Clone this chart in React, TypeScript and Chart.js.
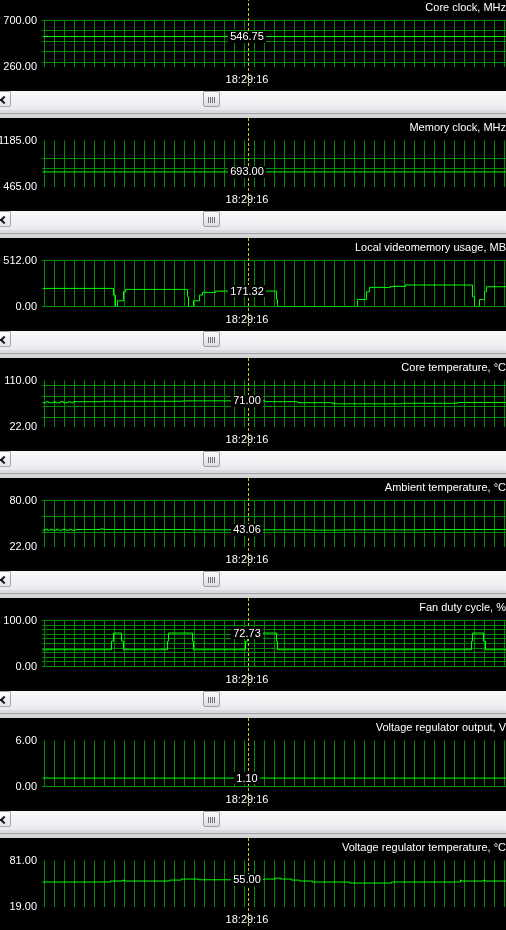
import React, { useEffect, useRef } from 'react';
import { Chart, registerables } from 'chart.js';

Chart.register(...registerables);

// ---------- data ----------
const timeLabel = '18:29:16';
const cursorSample = 206;
const sampleMin = -0.5;
const sampleMax = 463.5;
const vGridFirst = 2;
const vGridStep = 10;

const panelTitles = [
  'Core clock, MHz',
  'Memory clock, MHz',
  'Local videomemory usage, MB',
  'Core temperature, °C',
  'Ambient temperature, °C',
  'Fan duty cycle, %',
  'Voltage regulator output, V',
  'Voltage regulator temperature, °C',
];
const axisMins = [260, 465, 0, 22, 22, 0, 0, 19];
const axisMaxs = [700, 1185, 512, 110, 80, 100, 6, 81];
const gridLevels = [
  [300, 400, 500, 600, 700],
  [750, 900],
  [0, 512],
  [40, 60, 80, 100],
  [40, 60, 80],
  [0, 10, 20, 30, 40, 50, 60, 70, 80, 90, 100],
  [0],
  [],
];

// step series: value ys[i] holds from sample xs[i] until xs[i+1]
const coreClockX = [0];
const coreClockY = [546.75];
const memoryClockX = [0];
const memoryClockY = [693.0];
const videoMemX = [0, 71, 73, 75, 81, 83, 145, 146, 151, 157, 160, 173, 234, 235, 315, 324, 327, 348, 363, 430, 432, 437, 442, 444];
const videoMemY = [201.5, 127, 0, 63.5, 164, 190.6, 108, 0, 63.5, 127, 157, 171.32, 78.5, 0, 78.5, 164, 213, 224, 239, 108, 0, 78.5, 164, 220];
const coreTempX = [0, 4, 6, 11, 13, 18, 21, 26, 28, 31, 60, 140, 223, 255, 290, 360, 415];
const coreTempY = [67.5, 69.5, 67.5, 69.5, 67.5, 69.5, 67.5, 69.5, 67.5, 69.5, 70.3, 71.0, 69.5, 67.5, 65.5, 66.5, 68.0];
const ambientX = [0, 3, 5, 8, 10, 14, 16, 20, 23, 27, 29, 33, 58, 61, 150, 270, 300, 380];
const ambientY = [42.6, 43.8, 42.6, 43.8, 42.6, 43.8, 42.6, 43.8, 42.6, 43.8, 42.6, 43.4, 44.2, 43.4, 43.06, 42.7, 43.06, 43.4];
const fanX = [0, 69, 71, 79, 81, 125, 126, 150, 151, 203, 205, 234, 235, 429, 430, 441, 443];
const fanY = [36.36, 55, 72.73, 55, 36.36, 55, 72.73, 55, 36.36, 55, 72.73, 55, 36.36, 55, 72.73, 55, 36.36];
const vrOutX = [0];
const vrOutY = [1.1];
const vrTempX = [0, 68, 80, 81, 127, 139, 156, 221, 233, 238, 249, 257, 270, 307, 349, 418, 419, 441, 442];
const vrTempY = [52, 53.3, 54.6, 53.3, 54.6, 56, 55, 56, 57.3, 56, 54.6, 53.3, 52, 50.6, 52, 54.6, 53.3, 54.6, 53.3];

const seriesX = [coreClockX, memoryClockX, videoMemX, coreTempX, ambientX, fanX, vrOutX, vrTempX];
const seriesY = [coreClockY, memoryClockY, videoMemY, coreTempY, ambientY, fanY, vrOutY, vrTempY];

// ---------- styles ----------
const FONT = '"Liberation Sans", Arial, sans-serif';
const GRID_GREEN = 'rgb(0,140,0)';
const LINE_GREEN = '#00ff00';
const CURSOR_YELLOW = '#d2d200';
const PANEL_H = 120;
const BLACK_H = 93;
const PLOT_TOP = 22.5;
const PLOT_BOTTOM = 68.5;

function buildPoints(xs: number[], ys: number[]) {
  const pts = xs.map((x, i) => ({ x, y: ys[i] }));
  pts.push({ x: sampleMax + 1, y: ys[ys.length - 1] });
  return pts;
}

function valueAt(xs: number[], ys: number[], s: number) {
  let v = ys[0];
  for (let i = 0; i < xs.length; i++) if (xs[i] <= s) v = ys[i];
  return v;
}

const vTicks: number[] = [];
for (let v = vGridFirst; v <= sampleMax; v += vGridStep) vTicks.push(v);

function Panel({ idx }: { idx: number }) {
  const ref = useRef<HTMLCanvasElement | null>(null);
  useEffect(() => {
    const canvas = ref.current!;
    const min = axisMins[idx];
    const max = axisMaxs[idx];
    const grid = gridLevels[idx];
    const xs = seriesX[idx];
    const ys = seriesY[idx];
    const overlay = {
      id: 'rtOverlay',
      afterDraw(chart: any) {
        const ctx = chart.ctx as CanvasRenderingContext2D;
        const xScale = chart.scales.x;
        const yScale = chart.scales.y;
        const cx = Math.floor(xScale.getPixelForValue(cursorSample)) + 0.5;
        ctx.save();
        ctx.strokeStyle = CURSOR_YELLOW;
        ctx.lineWidth = 1;
        ctx.setLineDash([3, 2]);
        ctx.beginPath();
        ctx.moveTo(cx, 0);
        ctx.lineTo(cx, 89);
        ctx.stroke();
        ctx.setLineDash([]);
        ctx.font = `11px ${FONT}`;
        ctx.textBaseline = 'middle';
        ctx.textAlign = 'center';
        const v = valueAt(xs, ys, cursorSample);
        const txt = v.toFixed(2);
        const w = ctx.measureText(txt).width;
        const py = yScale.getPixelForValue(v);
        ctx.fillStyle = '#000';
        ctx.fillRect(Math.round(cx - 1.5 - w / 2 - 2), Math.round(py - 6), Math.ceil(w + 4), 12);
        ctx.fillStyle = '#fff';
        ctx.fillText(txt, cx - 1.5, py + 0.5);
        ctx.fillText(timeLabel, cx - 1.5, 81.5);
        ctx.textAlign = 'right';
        ctx.fillText(panelTitles[idx], 506, 9.5);
        ctx.restore();
      },
    };
    const chart = new Chart(canvas, {
      type: 'line',
      data: {
        datasets: [
          {
            data: buildPoints(xs, ys),
            borderColor: LINE_GREEN,
            borderWidth: 1,
            pointRadius: 0,
            stepped: true,
            fill: false,
            tension: 0,
          } as any,
        ],
      },
      options: {
        animation: false,
        responsive: false,
        maintainAspectRatio: false,
        devicePixelRatio: 1,
        events: [],
        layout: { padding: { top: PLOT_TOP, bottom: BLACK_H - PLOT_BOTTOM, left: 0, right: 0 } },
        plugins: {
          legend: { display: false },
          tooltip: { enabled: false },
          title: { display: false },
        },
        scales: {
          x: {
            type: 'linear',
            min: sampleMin,
            max: sampleMax,
            afterBuildTicks: (s: any) => {
              s.ticks = vTicks.map((value) => ({ value }));
            },
            afterFit: (s: any) => {
              s.height = 0;
            },
            ticks: { display: false },
            grid: { color: GRID_GREEN, lineWidth: 1, drawTicks: false },
            border: { display: false },
          },
          y: {
            type: 'linear',
            min,
            max,
            afterBuildTicks: (s: any) => {
              const vals = Array.from(new Set([min, max, ...grid])).sort((a, b) => a - b);
              s.ticks = vals.map((value) => ({ value }));
            },
            afterFit: (s: any) => {
              s.width = 42;
            },
            ticks: {
              autoSkip: false,
              padding: 5,
              color: '#ffffff',
              font: { family: FONT, size: 11 },
              callback: (v: any) => (v === min || v === max ? Number(v).toFixed(2) : ''),
            },
            grid: {
              drawTicks: false,
              lineWidth: 1,
              color: (c: any) => (c.tick && grid.includes(c.tick.value) ? GRID_GREEN : 'rgba(0,0,0,0)'),
            },
            border: { display: false },
          },
        },
      } as any,
      plugins: [overlay],
    });
    return () => chart.destroy();
  }, [idx]);

  const abs = (o: React.CSSProperties): React.CSSProperties => ({ position: 'absolute', ...o });
  return (
    <div style={{ position: 'relative', width: 506, height: PANEL_H, overflow: 'hidden' }}>
      <div style={abs({ left: 0, top: 0, width: 506, height: BLACK_H, background: '#000' })}>
        <canvas ref={ref} width={506} height={BLACK_H} style={{ display: 'block', width: 506, height: BLACK_H }} />
      </div>
      <div style={abs({ left: 0, top: 93, width: 506, height: 16, background: 'linear-gradient(#f9f9fb, #ededf1)' })} />
      <div style={abs({ left: 0, top: 109, width: 506, height: 3, background: '#ebebef' })} />
      <div style={abs({ left: 0, top: 112, width: 506, height: 3, background: '#dcdce0' })} />
      <div style={abs({ left: 0, top: 115, width: 506, height: 1, background: '#a2a2a6' })} />
      <div style={abs({ left: 0, top: 116, width: 506, height: 4, background: '#d6d6d9' })} />
      <div
        style={abs({
          left: -6,
          top: 93,
          width: 15,
          height: 14,
          border: '1px solid #a7a7b0',
          borderRadius: 2,
          background: 'linear-gradient(#fdfdfe, #e4e4ea)',
        })}
      />
      <div
        style={abs({
          left: 1,
          top: 98.5,
          width: 4,
          height: 4,
          borderLeft: '2px solid #1a1a1a',
          borderBottom: '2px solid #1a1a1a',
          transform: 'rotate(45deg)',
        })}
      />
      <div
        style={abs({
          left: 203,
          top: 93,
          width: 15,
          height: 14,
          border: '1px solid #9d9da6',
          borderRadius: 2,
          background: 'linear-gradient(#fcfcfd, #dcdce3)',
        })}
      />
      {[208, 210, 212, 214].map((x) => (
        <div key={x} style={abs({ left: x, top: 99, width: 1, height: 6, background: '#6e6e74' })} />
      ))}
    </div>
  );
}

export default function App() {
  return (
    <div style={{ position: 'absolute', left: 0, top: 0, width: 506, height: 930, overflow: 'hidden', background: '#000' }}>
      <div style={{ position: 'absolute', left: 0, top: -2, width: 506 }}>
        {panelTitles.map((_, i) => (
          <Panel key={i} idx={i} />
        ))}
      </div>
    </div>
  );
}
